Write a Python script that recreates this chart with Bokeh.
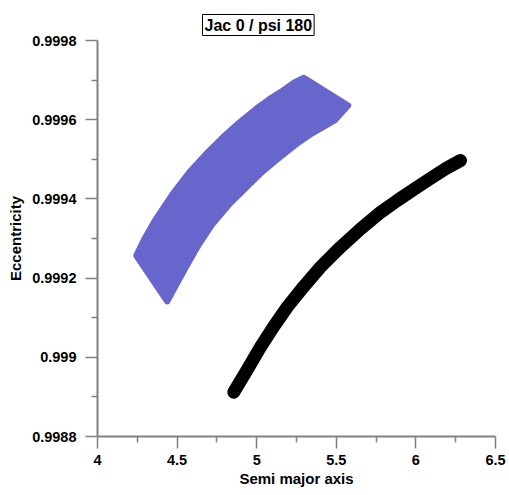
from bokeh.plotting import figure
from bokeh.models import Range1d, FixedTicker, Title
from bokeh.embed import file_html
from bokeh.resources import INLINE

# Black curve (semi major axis, eccentricity)
black_a = [4.856, 4.940, 5.024, 5.107, 5.192, 5.296, 5.401, 5.526,
           5.652, 5.778, 5.883, 5.987, 6.092, 6.186, 6.280]
black_e = [0.998912, 0.998968, 0.999026, 0.999078, 0.999127, 0.999179, 0.999228, 0.999278,
           0.999324, 0.999366, 0.999396, 0.999424, 0.999452, 0.999476, 0.999497]

# Blue region outline (upper edge, right corner, lower edge back to bottom corner)
blue_a = [4.243, 4.293, 4.366, 4.471, 4.576, 4.680, 4.785, 4.890, 4.994, 5.079, 5.162, 5.236,
          5.296, 5.575,
          5.493, 5.420, 5.346, 5.242, 5.137, 5.032, 4.928, 4.823, 4.718, 4.634, 4.551, 4.488,
          4.438]
blue_e = [0.999257, 0.999298, 0.999349, 0.999412, 0.999467, 0.999513, 0.999555, 0.999593,
          0.999627, 0.999652, 0.999673, 0.999694,
          0.999706, 0.999636,
          0.999599, 0.999582, 0.999565, 0.999536, 0.999502, 0.999467, 0.999426, 0.999384,
          0.999334, 0.999283, 0.999224, 0.999178,
          0.999141]

x_ticks = [4, 4.5, 5, 5.5, 6, 6.5]
x_minor = [4.25, 4.75, 5.25, 5.75, 6.25]
y_ticks = [0.9988, 0.999, 0.9992, 0.9994, 0.9996, 0.9998]
y_minor = [0.9989, 0.9991, 0.9993, 0.9995, 0.9997]
y_tick_labels = ["0.9988", "0.999", "0.9992", "0.9994", "0.9996", "0.9998"]
title_text = "Jac 0 / psi 180"

FONT = "Liberation Sans"
AXIS_COL = "#808080"

p = figure(width=509, height=495, output_backend="svg", toolbar_location=None,
           x_range=Range1d(4, 6.5), y_range=Range1d(0.9988, 0.9998),
           min_border_left=97, min_border_right=14, min_border_top=40, min_border_bottom=59)
p.title = Title(text=title_text, align="left", offset=105, standoff=10,
                text_font=FONT, text_font_style="bold", text_font_size="16px", text_color="black",
                border_line_color="black", border_line_width=1, background_fill_color="white",
                padding=2)
p.outline_line_color = None
p.grid.visible = False
p.background_fill_color = "white"
p.border_fill_color = "white"

p.patch(blue_a, blue_e, fill_color="#6666cc", line_color="#6666cc", line_width=6, line_join="round")
p.line(black_a, black_e, line_color="black", line_width=13, line_cap="round", line_join="round")

p.xaxis.ticker = FixedTicker(ticks=x_ticks, minor_ticks=x_minor)
p.yaxis.ticker = FixedTicker(ticks=y_ticks, minor_ticks=y_minor)
p.yaxis.major_label_overrides = {t: l for t, l in zip(y_ticks, y_tick_labels)}
p.xaxis.major_label_overrides = {t: ("%g" % t) for t in x_ticks}

for ax in (p.xaxis, p.yaxis):
    ax.axis_line_color = AXIS_COL
    ax.axis_line_width = 2
    ax.major_tick_line_color = AXIS_COL
    ax.minor_tick_line_color = AXIS_COL
    ax.major_tick_line_width = 1.5
    ax.minor_tick_line_width = 1.5
    ax.major_tick_in = 0
    ax.major_tick_out = 12
    ax.minor_tick_in = 0
    ax.minor_tick_out = 6
    ax.major_label_text_font = FONT
    ax.major_label_text_font_style = "bold"
    ax.major_label_text_font_size = "14.5px"
    ax.major_label_text_color = "black"
    ax.axis_label_text_font = FONT
    ax.axis_label_text_font_style = "bold"
    ax.axis_label_text_font_size = "15px"
    ax.axis_label_text_color = "black"

p.xaxis.major_label_standoff = 6
p.yaxis.major_label_standoff = 9
p.xaxis.axis_label = "Semi major axis"
p.yaxis.axis_label = "Eccentricity"
p.xaxis.axis_label_standoff = 2
p.yaxis.axis_label_standoff = 5

open("out.html", "w").write(file_html(p, INLINE))
